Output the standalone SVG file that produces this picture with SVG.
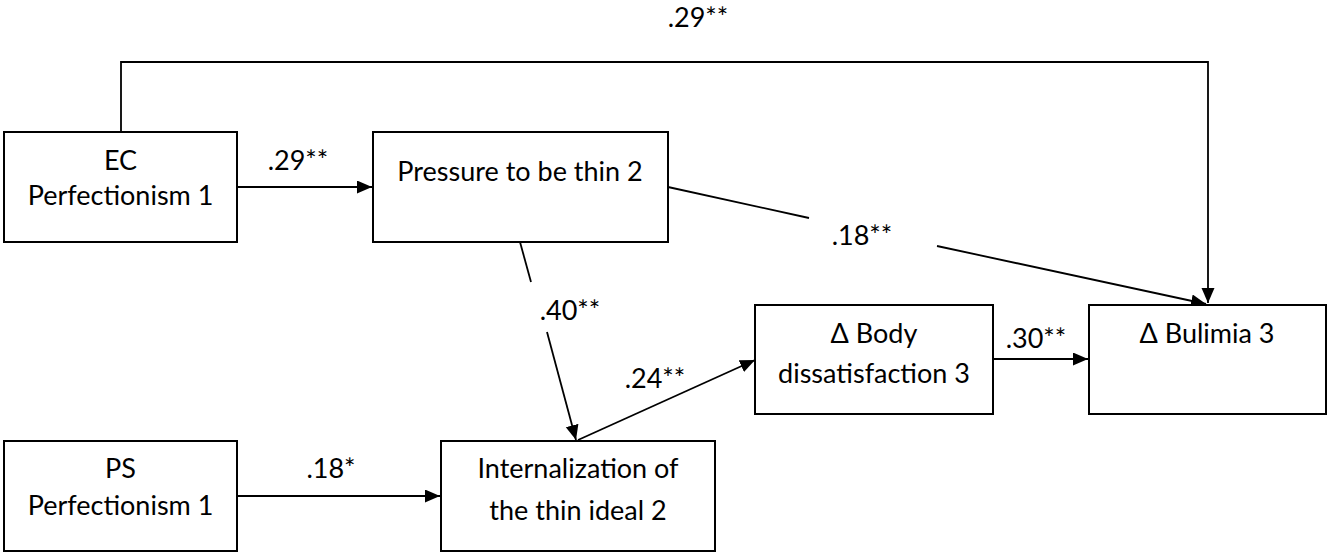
<svg xmlns="http://www.w3.org/2000/svg" width="1327" height="553" viewBox="0 0 1327 553">
<style>
.box{fill:#fff;stroke:#000;stroke-width:2}
.t{font-family:Lato,"Liberation Sans",sans-serif;font-size:27px;fill:#000;text-anchor:middle}
.c{fill:none;stroke:#000;stroke-width:1.8}
</style>
<defs>
<marker id="ah" markerUnits="userSpaceOnUse" markerWidth="16" markerHeight="14" refX="15" refY="6.5" orient="auto">
<path d="M0,0 L15,6.5 L0,13 z" fill="#000"/>
</marker>
</defs>
<rect width="1327" height="553" fill="#fff"/>
<g id="connectors">
<line class="c" x1="237" y1="187" x2="372" y2="187" marker-end="url(#ah)"/>
<polyline class="c" points="121,132 121,62 1208,62 1208,303" marker-end="url(#ah)"/>
<line class="c" x1="668" y1="187" x2="809" y2="218"/>
<line class="c" x1="937" y1="246" x2="1206" y2="304" marker-end="url(#ah)"/>
<line class="c" x1="520" y1="242" x2="531" y2="282"/>
<line class="c" x1="547" y1="332" x2="576" y2="440" marker-end="url(#ah)"/>
<line class="c" x1="237" y1="496" x2="440" y2="496" marker-end="url(#ah)"/>
<line class="c" x1="578" y1="440" x2="755" y2="360" marker-end="url(#ah)"/>
<line class="c" x1="993" y1="359" x2="1088" y2="359" marker-end="url(#ah)"/>
</g>
<g id="labels">
<text class="t" x="698" y="27">.29**</text>
<text class="t" x="298" y="170">.29**</text>
<text class="t" x="862" y="245">.18**</text>
<text class="t" x="570" y="320">.40**</text>
<text class="t" x="655" y="388">.24**</text>
<text class="t" x="331" y="478">.18*</text>
<text class="t" x="1036" y="348">.30**</text>
</g>
<g id="ec">
<rect class="box" x="4" y="132" width="233" height="110"/>
<text class="t" x="120.5" y="170">EC</text>
<text class="t" x="120.5" y="205">Perfectionism 1</text>
</g>
<g id="pressure">
<rect class="box" x="373" y="132" width="295" height="110"/>
<text class="t" x="520" y="181">Pressure to be thin 2</text>
</g>
<g id="ps">
<rect class="box" x="4" y="441" width="233" height="110"/>
<text class="t" x="120.5" y="478">PS</text>
<text class="t" x="120.5" y="515">Perfectionism 1</text>
</g>
<g id="internalization">
<rect class="box" x="441" y="441" width="274" height="110"/>
<text class="t" x="578" y="478">Internalization of</text>
<text class="t" x="578" y="520">the thin ideal 2</text>
</g>
<g id="body">
<rect class="box" x="755" y="305" width="238" height="109"/>
<text class="t" x="874" y="343">Δ Body</text>
<text class="t" x="874" y="383">dissatisfaction 3</text>
</g>
<g id="bulimia">
<rect class="box" x="1089" y="305" width="237" height="109"/>
<text class="t" x="1207" y="343">Δ Bulimia 3</text>
</g>
</svg>
